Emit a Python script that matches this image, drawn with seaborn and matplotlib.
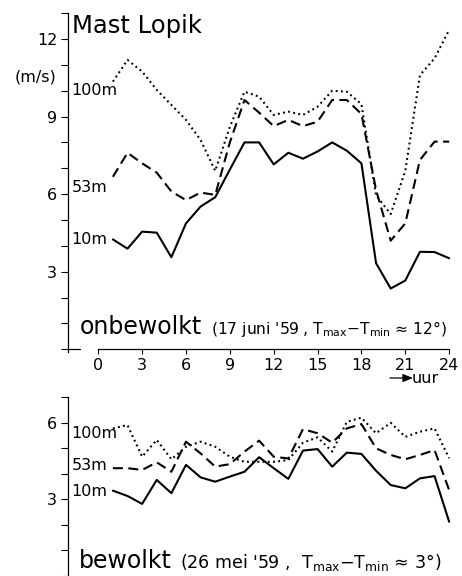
import matplotlib
matplotlib.use("Agg")
import matplotlib.pyplot as plt
import seaborn as sns
import pandas as pd

# ---------------- data ----------------
hours = list(range(1, 25))

# onbewolkt, 17 juni '59
clear_10m = [4.25, 3.89, 4.55, 4.51, 3.56, 4.87, 5.52, 5.88, 6.95, 8.0, 8.0, 7.15,
             7.6, 7.37, 7.65, 8.0, 7.68, 7.19, 3.33, 2.35, 2.66, 3.77, 3.76, 3.52]
clear_53m = [6.67, 7.6, 7.19, 6.83, 6.1, 5.77, 6.06, 5.97, 8.0, 9.64, 9.15, 8.63,
             8.87, 8.63, 8.8, 9.64, 9.64, 9.1, 6.16, 4.2, 4.87, 7.32, 8.03, 8.03]
clear_100m = [10.35, 11.19, 10.74, 10.03, 9.45, 8.87, 8.09, 6.9, 8.6, 9.96, 9.77, 9.06,
              9.19, 9.06, 9.38, 10.0, 9.96, 9.48, 5.95, 5.23, 6.9, 10.6, 11.25, 12.35]

# bewolkt, 26 mei '59
cloudy_10m = [3.34, 3.13, 2.82, 3.76, 3.24, 4.35, 3.86, 3.69, 3.89, 4.08, 4.65, 4.22,
              3.8, 4.91, 4.97, 4.28, 4.83, 4.78, 4.12, 3.56, 3.43, 3.82, 3.91, 2.12]
cloudy_53m = [4.22, 4.22, 4.15, 4.45, 4.08, 5.26, 4.8, 4.28, 4.38, 4.87, 5.3, 4.67,
              4.6, 5.75, 5.59, 5.22, 5.78, 5.95, 5.0, 4.74, 4.57, 4.74, 4.93, 3.36]
cloudy_100m = [5.78, 5.91, 4.67, 5.33, 4.57, 5.06, 5.26, 5.06, 4.67, 4.47, 4.47, 4.47,
               4.54, 5.22, 5.43, 4.87, 6.04, 6.2, 5.59, 6.0, 5.45, 5.65, 5.78, 4.61]

heights = ["10m", "53m", "100m"]
x_ticks = [0, 3, 6, 9, 12, 15, 18, 21, 24]
y_ticks_top = list(range(0, 14))
y_labels_top = [3, 6, 9, 12]
y_ticks_bot = list(range(0, 8))
y_labels_bot = [3, 6]


def long_frame(s10, s53, s100):
    rows = []
    for name, vals in zip(heights, [s10, s53, s100]):
        for h, v in zip(hours, vals):
            rows.append({"uur": h, "snelheid": v, "hoogte": name})
    return pd.DataFrame(rows)


df_clear = long_frame(clear_10m, clear_53m, clear_100m)
df_cloudy = long_frame(cloudy_10m, cloudy_53m, cloudy_100m)

# ---------------- style ----------------
sns.set_theme(style="ticks")
plt.rcParams["font.family"] = ["DejaVu Sans"]
plt.rcParams["mathtext.default"] = "regular"
for key in ["text.color", "axes.labelcolor", "xtick.color", "ytick.color",
            "axes.edgecolor", "xtick.labelcolor", "ytick.labelcolor"]:
    plt.rcParams[key] = "black"

W, H = 462, 576
fig = plt.figure(figsize=(W / 100, H / 100), dpi=100)

dashes = {"10m": "", "53m": (4.8, 2.6), "100m": (0.9, 1.6)}
LW = 1.5
XLIM = (-2.07, 24.7)


def fx(px):
    return px / W


def fy(py):
    return 1 - py / H


def style_axis(ax, ylim, yticks, ylabels):
    ax.set_xlim(*XLIM)
    ax.set_ylim(*ylim)
    ax.set_yticks(yticks)
    ax.set_yticklabels([str(t) if t in ylabels else "" for t in yticks])
    ax.spines["top"].set_visible(False)
    ax.spines["right"].set_visible(False)
    ax.spines["left"].set_linewidth(0.9)
    ax.spines["left"].set_color("black")
    ax.tick_params(axis="y", direction="out", length=5.3, width=0.8,
                   pad=2.5, labelsize=11.5, colors="black")
    ax.set_xlabel("")
    ax.set_ylabel("")
    ax.set_facecolor("white")


# ---------------- top panel ----------------
ax1 = fig.add_axes([fx(68), fy(352.4), fx(459.4) - fx(68), (352.4 - 13.1) / H])
sns.lineplot(data=df_clear, x="uur", y="snelheid", style="hoogte",
             dashes=dashes, color="black", linewidth=LW, estimator=None,
             legend=False, ax=ax1)
style_axis(ax1, (-0.12, 13), y_ticks_top, y_labels_top)
ax1.spines["bottom"].set_position(("data", 0))
ax1.spines["bottom"].set_bounds(0, 24)
ax1.spines["bottom"].set_linewidth(0.9)
ax1.spines["bottom"].set_color("black")
ax1.set_xticks(x_ticks)
ax1.set_xticklabels([str(t) for t in x_ticks])
ax1.tick_params(axis="x", direction="out", length=3.5, width=0.8,
                pad=3, labelsize=11.5, colors="black")
ax1.axhline(0, xmin=0, xmax=0.031, color="black", lw=0.9, clip_on=False)

# ---------------- bottom panel ----------------
ax2 = fig.add_axes([fx(68), fy(575.8), fx(459.4) - fx(68), (575.8 - 397.3) / H])
sns.lineplot(data=df_cloudy, x="uur", y="snelheid", style="hoogte",
             dashes=dashes, color="black", linewidth=LW, estimator=None,
             legend=False, ax=ax2)
style_axis(ax2, (0, 7), y_ticks_bot, y_labels_bot)
ax2.spines["bottom"].set_visible(False)
ax2.set_xticks([])

for ax in (ax1, ax2):
    for line in ax.get_lines():
        line.set_dash_capstyle("butt")

# ---------------- texts ----------------
fig.text(fx(71.5), fy(32.5), "Mast Lopik", fontsize=17.5, va="baseline", ha="left")
fig.text(fx(35), fy(77), "(m/s)", fontsize=11.5, va="center", ha="center")

for txt, py in [("100m", 90.5), ("53m", 188), ("10m", 239)]:
    fig.text(fx(71.5), fy(py), txt, fontsize=11.5, va="center", ha="left")
for txt, py in [("100m", 433), ("53m", 465.5), ("10m", 491)]:
    fig.text(fx(71.5), fy(py), txt, fontsize=11.5, va="center", ha="left")

fig.text(fx(80), fy(334), "onbewolkt", fontsize=17, va="baseline", ha="left")
fig.text(fx(211), fy(334),
         r"(17 juni '59 , T$_{max}$$-$T$_{min}$ ≈ 12°)",
         fontsize=11.2, va="baseline", ha="left")

fig.text(fx(78.5), fy(568), "bewolkt", fontsize=17, va="baseline", ha="left")
fig.text(fx(180), fy(568),
         r"(26 mei '59 ,  T$_{max}$$-$T$_{min}$ ≈ 3°)",
         fontsize=12.6, va="baseline", ha="left")

fig.text(fx(412), fy(383), "uur", fontsize=11.5, va="baseline", ha="left")
ax1.annotate("", xy=(fx(413), fy(378)), xytext=(fx(390), fy(378)),
             xycoords="figure fraction", textcoords="figure fraction",
             arrowprops=dict(arrowstyle="-|>,head_length=0.5,head_width=0.2",
                             lw=0.9, color="black", shrinkA=0, shrinkB=0))

fig.savefig("out.png", dpi=100, facecolor="white")
